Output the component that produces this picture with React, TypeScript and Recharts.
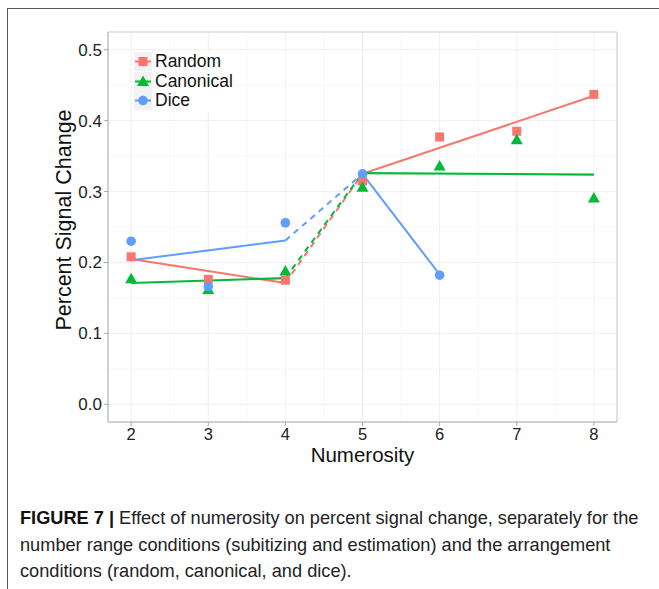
import React from "react";
import {
  ComposedChart,
  Line,
  Scatter,
  XAxis,
  YAxis,
  CartesianGrid,
  ReferenceLine,
} from "recharts";

// Numerosity on the x axis
const numerosity = [2, 3, 4, 5, 6, 7, 8];
const diceNumerosity = [2, 3, 4, 5, 6];

// Observed percent signal change per arrangement
const randomPts = [0.208, 0.176, 0.175, 0.315, 0.377, 0.385, 0.437];
const canonicalPts = [0.177, 0.162, 0.188, 0.306, 0.336, 0.373, 0.291];
const dicePts = [0.23, 0.166, 0.256, 0.325, 0.182];

// Fitted lines: subitizing range (2-4) and estimation range (5-8, dice 5-6)
const subRange = [2, 4];
const estRange = [5, 8];
const diceEstRange = [5, 6];
const randomSubFit = [0.205, 0.171];
const randomEstFit = [0.325, 0.435];
const canonicalSubFit = [0.171, 0.178];
const canonicalEstFit = [0.326, 0.324];
const diceSubFit = [0.203, 0.231];
const diceEstFit = [0.325, 0.183];

const xTicks = [2, 3, 4, 5, 6, 7, 8];
const yTicks = [0, 0.1, 0.2, 0.3, 0.4, 0.5];
const xMinor = [2.5, 3.5, 4.5, 5.5, 6.5, 7.5];
const yMinor = [0.05, 0.15, 0.25, 0.35, 0.45];

const RED = "#F8766D";
const GREEN = "#00BA38";
const BLUE = "#619CFF";

const toPts = (xs: number[], ys: number[]) => xs.map((x, i) => ({ x, y: ys[i] }));
const bridge = (sub: number[], est: number[]) => [
  { x: subRange[1], y: sub[1] },
  { x: estRange[0], y: est[0] },
];

const SquareDot = (p: any) => (
  <rect x={p.cx - 4.5} y={p.cy - 4.5} width={9} height={9} fill={RED} />
);
const TriangleDot = (p: any) => (
  <polygon
    points={`${p.cx},${p.cy - 6} ${p.cx - 6},${p.cy + 4.5} ${p.cx + 6},${p.cy + 4.5}`}
    fill={GREEN}
  />
);
const CircleDot = (p: any) => <circle cx={p.cx} cy={p.cy} r={4.8} fill={BLUE} />;

const legendItems = [
  { name: "Random", color: RED, shape: "square" },
  { name: "Canonical", color: GREEN, shape: "triangle" },
  { name: "Dice", color: BLUE, shape: "circle" },
];

function LegendKey({ color, shape }: { color: string; shape: string }) {
  return (
    <svg width={18} height={19} style={{ display: "block" }}>
      <rect x={0} y={0} width={18} height={19} fill="#f2f2f2" />
      <line x1={1} y1={9.5} x2={17} y2={9.5} stroke={color} strokeWidth={2} />
      {shape === "square" && <rect x={4.5} y={5} width={9} height={9} fill={color} />}
      {shape === "triangle" && <polygon points="9,3.5 3,14 15,14" fill={color} />}
      {shape === "circle" && <circle cx={9} cy={9.5} r={4.8} fill={color} />}
    </svg>
  );
}

const font = "'Liberation Sans', Arial, sans-serif";

const XLabel = (props: any) => {
  const vb = props.viewBox;
  return (
    <text x={vb.x + vb.width / 2} y={462} textAnchor="middle" fill="#111" fontSize={20.5} fontFamily={font}>
      Numerosity
    </text>
  );
};

const YLabel = (props: any) => {
  const vb = props.viewBox;
  const cx = 71;
  const cy = vb.y + vb.height / 2 - 7;
  return (
    <text x={cx} y={cy} textAnchor="middle" transform={`rotate(-90 ${cx} ${cy})`} fill="#111" fontSize={21.5} fontFamily={font}>
      Percent Signal Change
    </text>
  );
};

export default function App() {
  return (
    <div style={{ position: "absolute", left: 0, top: 0, width: 659, height: 589, background: "#fff", fontFamily: font, overflow: "hidden" }}>
      <div style={{ position: "absolute", left: 7, top: 8, width: 660, height: 590, borderTop: "1.5px solid #555", borderLeft: "1.5px solid #555" }} />
      <ComposedChart
        width={659}
        height={589}
        margin={{ top: 32, right: 42, left: 48, bottom: 137 }}
        style={{ position: "absolute", left: 0, top: 0 }}
      >
        <CartesianGrid stroke="#efefef" strokeWidth={1} />
        {xMinor.map((v) => (
          <ReferenceLine key={"xm" + v} x={v} stroke="#f6f6f6" strokeWidth={0.8} />
        ))}
        {yMinor.map((v) => (
          <ReferenceLine key={"ym" + v} y={v} stroke="#f6f6f6" strokeWidth={0.8} />
        ))}
        <ReferenceLine y={0.525} stroke="#d4d4d4" strokeWidth={1.2} />
        <ReferenceLine x={8.3} stroke="#d4d4d4" strokeWidth={1.2} />
        <XAxis
          type="number"
          dataKey="x"
          domain={[1.7, 8.3]}
          ticks={xTicks}
          allowDataOverflow
          height={30}
          stroke="#a8a8a8"
          tickSize={4}
          tick={{ fill: "#222", fontSize: 16.5, fontFamily: font }}
          label={<XLabel />}
        />
        <YAxis
          type="number"
          dataKey="y"
          domain={[-0.025, 0.525]}
          ticks={yTicks}
          allowDataOverflow
          width={60}
          stroke="#a8a8a8"
          tickSize={4}
          tickFormatter={(v: number) => v.toFixed(1)}
          tick={{ fill: "#222", fontSize: 17, fontFamily: font }}
          label={<YLabel />}
        />
        <Scatter data={toPts(numerosity, randomPts)} dataKey="y" shape={SquareDot} isAnimationActive={false} />
        <Scatter data={toPts(numerosity, canonicalPts)} dataKey="y" shape={TriangleDot} isAnimationActive={false} />
        <Scatter data={toPts(diceNumerosity, dicePts)} dataKey="y" shape={CircleDot} isAnimationActive={false} />

        <Line data={toPts(subRange, randomSubFit)} dataKey="y" stroke={RED} strokeWidth={2} dot={false} isAnimationActive={false} />
        <Line data={toPts(estRange, randomEstFit)} dataKey="y" stroke={RED} strokeWidth={2} dot={false} isAnimationActive={false} />
        <Line data={bridge(randomSubFit, randomEstFit)} dataKey="y" stroke={RED} strokeWidth={2} strokeDasharray="6 5" dot={false} isAnimationActive={false} />

        <Line data={toPts(subRange, canonicalSubFit)} dataKey="y" stroke={GREEN} strokeWidth={2.2} dot={false} isAnimationActive={false} />
        <Line data={toPts(estRange, canonicalEstFit)} dataKey="y" stroke={GREEN} strokeWidth={2.2} dot={false} isAnimationActive={false} />
        <Line data={bridge(canonicalSubFit, canonicalEstFit)} dataKey="y" stroke={GREEN} strokeWidth={2} strokeDasharray="6 5" dot={false} isAnimationActive={false} />

        <Line data={toPts(subRange, diceSubFit)} dataKey="y" stroke={BLUE} strokeWidth={2} dot={false} isAnimationActive={false} />
        <Line data={toPts(diceEstRange, diceEstFit)} dataKey="y" stroke={BLUE} strokeWidth={2} dot={false} isAnimationActive={false} />
        <Line data={bridge(diceSubFit, diceEstFit)} dataKey="y" stroke={BLUE} strokeWidth={2} strokeDasharray="6 5" dot={false} isAnimationActive={false} />
      </ComposedChart>

      <div style={{ position: "absolute", left: 134, top: 52, background: "#fff" }}>
        {legendItems.map((it) => (
          <div key={it.name} style={{ display: "flex", alignItems: "center", height: 19.5 }}>
            <LegendKey color={it.color} shape={it.shape} />
            <span style={{ marginLeft: 3, fontSize: 17.5, color: "#111", lineHeight: "19.5px" }}>{it.name}</span>
          </div>
        ))}
      </div>

      <div style={{ position: "absolute", left: 20, top: 505, fontSize: 18.2, lineHeight: "26.5px", color: "#222", whiteSpace: "nowrap" }}>
        <div>
          <b style={{ color: "#111" }}>FIGURE 7 | </b>Effect of numerosity on percent signal change, separately for the
        </div>
        <div>number range conditions (subitizing and estimation) and the arrangement</div>
        <div>conditions (random, canonical, and dice).</div>
      </div>
    </div>
  );
}
